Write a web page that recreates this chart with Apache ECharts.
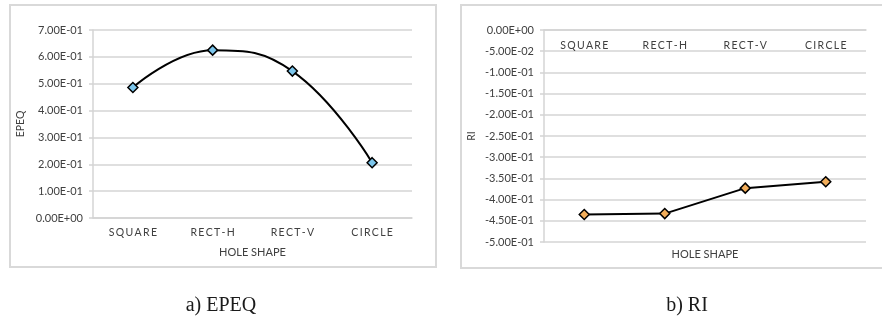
<!DOCTYPE html>
<html>
<head>
<meta charset="utf-8">
<script src="https://cdn.jsdelivr.net/npm/echarts@6/dist/echarts.min.js"></script>
<style>
  html, body { margin: 0; padding: 0; background: #ffffff; }
  #chart { width: 882px; height: 336px; }
</style>
</head>
<body>
<div id="chart"></div>
<script>
// Hole shapes compared in both panels
const shapes = ['SQUARE', 'RECT-H', 'RECT-V', 'CIRCLE'];

// Panel a) EPEQ per hole shape
const epeqValues = [0.486, 0.625, 0.547, 0.206];
// Panel b) RI per hole shape
const riValues = [-0.435, -0.433, -0.373, -0.358];

const axisTitleX = 'HOLE SHAPE';
const epeqName = 'EPEQ';
const riName = 'RI';
const captionA = 'a) EPEQ';
const captionB = 'b) RI';

// Scientific tick labels such as 7.00E-01 / 0.00E+00
function sci(v) {
  if (Math.abs(v) < 1e-12) return '0.00E+00';
  const parts = v.toExponential(2).split('e');
  const sign = parts[1][0];
  const digits = parts[1].slice(1).padStart(2, '0');
  return parts[0] + 'E' + sign + digits;
}
// Spread the category letters out
function spaced(s) { return s.split('').join('\u2009'); }

const txt = '#404040';
const gridCol = '#d4d4d4';
const font = 'Lato, "Open Sans", sans-serif';

const chart = echarts.init(document.getElementById('chart'), null, { renderer: 'canvas' });

const yCommon = {
  type: 'value',
  nameLocation: 'middle',
  nameTextStyle: { color: txt, fontSize: 10.5, fontFamily: font },
  axisLine: { show: true, lineStyle: { color: gridCol, width: 1.5 } },
  axisTick: { show: true, length: 4, lineStyle: { color: gridCol, width: 1.5 } },
  axisLabel: { color: txt, fontSize: 11, fontFamily: font, margin: 10, formatter: sci },
  splitLine: { lineStyle: { color: gridCol, width: 1.5 } }
};

chart.setOption({
  animation: false,
  grid: [
    { left: 93, top: 30, width: 319, height: 188 },
    { left: 544, top: 30, width: 322, height: 212 }
  ],
  xAxis: [
    {
      gridIndex: 0, type: 'category', data: shapes, boundaryGap: true,
      name: axisTitleX, nameLocation: 'middle', nameGap: 29,
      nameTextStyle: { color: txt, fontSize: 11, fontFamily: font },
      axisLine: { lineStyle: { color: gridCol, width: 1.5 } },
      axisTick: { show: false },
      axisLabel: { color: txt, fontSize: 10.5, fontFamily: font, margin: 9, formatter: spaced }
    },
    {
      gridIndex: 1, type: 'category', data: shapes, boundaryGap: true, position: 'top',
      axisLine: { onZero: false, lineStyle: { color: gridCol, width: 1.5 } },
      axisTick: { show: false },
      axisLabel: { inside: true, color: txt, fontSize: 10.5, fontFamily: font, margin: 10, formatter: spaced }
    },
    {
      gridIndex: 1, type: 'category', data: shapes, position: 'bottom',
      name: axisTitleX, nameLocation: 'middle', nameGap: 7,
      nameTextStyle: { color: txt, fontSize: 11, fontFamily: font },
      axisLine: { show: false }, axisTick: { show: false }, axisLabel: { show: false }
    }
  ],
  yAxis: [
    Object.assign({}, yCommon, {
      gridIndex: 0, min: 0, max: 0.7, interval: 0.1,
      name: epeqName, nameGap: 67
    }),
    Object.assign({}, yCommon, {
      gridIndex: 1, min: -0.5, max: 0, interval: 0.05,
      name: riName, nameGap: 67
    })
  ],
  series: [
    {
      type: 'line', xAxisIndex: 0, yAxisIndex: 0, data: epeqValues,
      smooth: 0.45,
      lineStyle: { color: '#000000', width: 2 },
      symbol: 'diamond', symbolSize: 10,
      itemStyle: { color: '#7cc6ec', borderColor: '#000000', borderWidth: 1.5 }
    },
    {
      type: 'line', xAxisIndex: 1, yAxisIndex: 1, data: riValues,
      lineStyle: { color: '#000000', width: 2 },
      symbol: 'diamond', symbolSize: 10,
      itemStyle: { color: '#f2ad5a', borderColor: '#000000', borderWidth: 1.5 }
    }
  ],
  graphic: [
    { type: 'rect', shape: { x: 10, y: 5, width: 426, height: 262 },
      style: { fill: 'none', stroke: '#d9d9d9', lineWidth: 2 }, silent: true, z: -1 },
    { type: 'rect', shape: { x: 461, y: 5, width: 430, height: 263 },
      style: { fill: 'none', stroke: '#d9d9d9', lineWidth: 2 }, silent: true, z: -1 },
    { type: 'text', x: 221, y: 306,
      style: { text: captionA, font: '20px "Liberation Serif", "DejaVu Serif", serif', fill: '#1a1a1a',
        textAlign: 'center', textVerticalAlign: 'middle' } },
    { type: 'text', x: 687, y: 306,
      style: { text: captionB, font: '20px "Liberation Serif", "DejaVu Serif", serif', fill: '#1a1a1a',
        textAlign: 'center', textVerticalAlign: 'middle' } }
  ]
});
</script>
</body>
</html>
